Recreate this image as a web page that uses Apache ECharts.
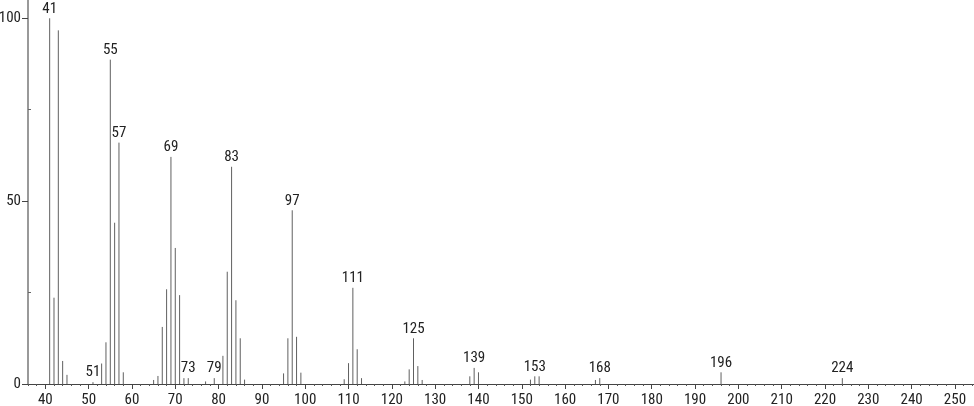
<!DOCTYPE html>
<html>
<head>
<meta charset="utf-8">
<script src="https://cdn.jsdelivr.net/npm/echarts@6/dist/echarts.min.js"></script>
<style>
html,body{margin:0;padding:0;background:#fff;}
#chart{width:974px;height:406px;}
</style>
</head>
<body>
<div id="chart"></div>
<script>
// m/z values
var mz = [41,42,43,44,45,51,53,54,55,56,57,58,65,66,67,68,69,70,71,72,73,77,79,81,82,83,84,85,86,95,96,97,98,99,109,110,111,112,113,123,124,125,126,127,138,139,140,152,153,154,167,168,196,224];
// relative intensities
var intensity = [100,23.6,96.7,6.3,2.5,0.5,5.6,11.4,88.7,44.1,66.0,3.2,1.1,2.2,15.6,25.9,62.1,37.2,24.3,1.6,1.6,0.7,1.6,7.7,30.7,59.4,22.9,12.5,1.2,2.9,12.5,47.5,12.9,3.1,1.3,5.7,26.3,9.5,1.6,0.7,4.0,12.5,4.9,1.1,2.1,4.4,3.2,1.2,2.1,2.1,1.1,1.6,3.2,1.6];
// peaks with labels
var labeledPeaks = [41,51,55,57,69,73,79,83,97,111,125,139,153,168,196,224];
// axis tick labels
var xTickLabels = [40,50,60,70,80,90,100,110,120,130,140,150,160,170,180,190,200,210,220,230,240,250];
var yTickLabels = [0,50,100];
var yMinorTicks = [25,75];

var FONT = '"Liberation Sans Narrow", "Roboto Condensed", Roboto, sans-serif';

var data = mz.map(function(m, i){
  return [m, intensity[i], labeledPeaks.indexOf(m) >= 0 ? 1 : 0];
});

var chart = echarts.init(document.getElementById('chart'), null, {renderer:'canvas'});
chart.setOption({
  animation:false,
  backgroundColor:'#fff',
  grid:{left:28, right:0, top:0, bottom:22, containLabel:false, outerBoundsMode:'none'},
  xAxis:[{
    type:'value', min:36, max:254.4, interval:2,
    axisLine:{show:true, lineStyle:{color:'#444', width:1}},
    axisTick:{show:true, length:2, lineStyle:{color:'#555'}},
    axisLabel:{show:false},
    splitLine:{show:false}
  },{
    type:'value', min:36, max:254.4, position:'bottom', offset:0,
    axisLine:{show:false},
    axisTick:{show:true, length:5, customValues:xTickLabels, lineStyle:{color:'#444'}},
    axisLabel:{show:true, customValues:xTickLabels, margin:9, fontSize:15, color:'#222', fontFamily:FONT},
    splitLine:{show:false}
  }],
  yAxis:[{
    type:'value', min:0, max:105,
    axisLine:{show:true, lineStyle:{color:'#999', width:2}},
    axisTick:{show:true, length:6, customValues:yTickLabels, lineStyle:{color:'#444'}},
    axisLabel:{show:true, customValues:yTickLabels, margin:7, fontSize:15, color:'#222', fontFamily:FONT},
    splitLine:{show:false}
  },{
    type:'value', min:0, max:105, position:'left', offset:0,
    axisLine:{show:false},
    axisTick:{show:true, inside:true, length:3, customValues:yMinorTicks, lineStyle:{color:'#666'}},
    axisLabel:{show:false},
    splitLine:{show:false}
  }],
  series:[{
    type:'custom', xAxisIndex:0, yAxisIndex:0,
    encode:{x:0, y:1},
    data:data,
    renderItem:function(params, api){
      var x = api.value(0), y = api.value(1), lab = api.value(2);
      var p0 = api.coord([x, 0]);
      var p1 = api.coord([x, y]);
      var children = [{
        type:'line',
        shape:{x1:p0[0], y1:p0[1], x2:p1[0], y2:p1[1]},
        style:{stroke:'#606060', lineWidth:1}
      }];
      if (lab) {
        children.push({
          type:'text',
          x:p1[0], y:p1[1] - 2,
          style:{text:String(x), textAlign:'center', textVerticalAlign:'bottom',
                 font:'15px ' + FONT, fill:'#222'}
        });
      }
      return {type:'group', children:children};
    }
  }]
});
</script>
</body>
</html>
